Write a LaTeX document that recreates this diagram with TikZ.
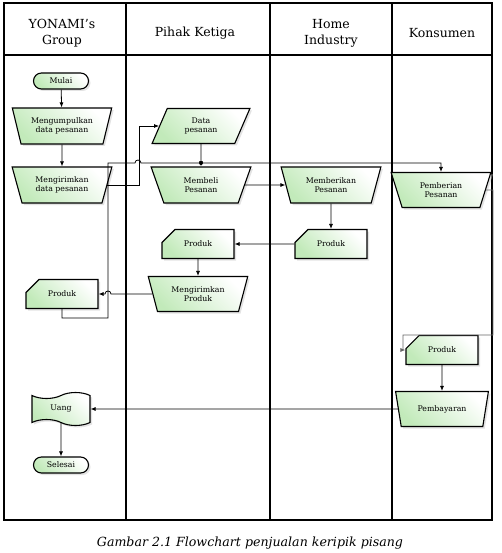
\documentclass[tikz,border=0pt]{standalone}
\usepackage{fontspec}
\setmainfont{DejaVu Serif}
\usetikzlibrary{shapes.geometric,shapes.misc,shapes.symbols,shadows,arrows.meta}
\definecolor{flowgreen}{RGB}{194,234,186}
\tikzset{
	box/.style={draw, line width=1.1pt, font=\fontsize{7.8}{9.2}\selectfont, align=center, inner sep=1pt,
		top color=white, bottom color=flowgreen, shading angle=-45,
		drop shadow={shadow xshift=2pt, shadow yshift=-2pt, fill=black!22}},
	term/.style={box, rounded rectangle, minimum width=57pt, minimum height=16pt},
	manop/.style={box, trapezium, shape border rotate=180, trapezium left angle=70, trapezium right angle=70,
		trapezium stretches=true, minimum width=100pt, minimum height=36pt},
	datain/.style={box, trapezium, trapezium left angle=67, trapezium right angle=113,
		trapezium stretches=true, minimum width=98pt, minimum height=35pt},
	card/.style={box, chamfered rectangle, chamfered rectangle corners=north west,
		chamfered rectangle xsep=9pt, chamfered rectangle ysep=9pt, minimum width=72pt, minimum height=29pt},
	tapebox/.style={box, tape, tape bend top=in and out, tape bend bottom=out and in, tape bend height=6pt,
		minimum width=58pt, minimum height=33pt},
	flow/.style={line width=0.8pt, -{Latex[length=5pt,width=4pt]}},
	lane/.style={line width=1.4pt},
	lanehead/.style={font=\fontsize{12.5}{16}\selectfont, align=center},
}

\begin{document}
\begin{tikzpicture}[x=1pt, y=-1pt]
		%%%%% START %%%%%
		\useasboundingbox (0,0) rectangle (501,553);
		
		% lanes
		\draw[lane] (4,3) rectangle (492,520);
		\draw[lane] (4,55) -- (492,55);
		\draw[lane] (126,3) -- (126,520);
		\draw[lane] (270,3) -- (270,520);
		\draw[lane] (392,3) -- (392,520);
		
		\node[lanehead] (hYonami) at (62,33) {YONAMI’s\\Group};
		\node[lanehead] (hPihak) at (195,33) {Pihak Ketiga};
		\node[lanehead] (hHome) at (331,33) {Home\\Industry};
		\node[lanehead] (hKonsumen) at (442,33) {Konsumen};
		
		% nodes
		\node[term] (mulai) at (61,81) {Mulai};
		\node[manop] (kumpul) at (62,126) {Mengumpulkan\\data pesanan};
		\node[manop] (kirim) at (62,185) {Mengirimkan\\data pesanan};
		\node[datain] (data) at (201,126) {Data\\pesanan};
		\node[manop] (beli) at (201,185) {Membeli\\Pesanan};
		\node[manop] (beri) at (331,185) {Memberikan\\Pesanan};
		\node[manop, minimum height=35pt] (pemberian) at (441,190) {Pemberian\\Pesanan};
		\node[card] (produkHI) at (331,244) {Produk};
		\node[card] (produkPK) at (198,244) {Produk};
		\node[manop, minimum height=35pt] (kirimProduk) at (198,294) {Mengirimkan\\Produk};
		\node[card] (produkY) at (62,294) {Produk};
		\node[card] (produkK) at (442,350) {Produk};
		\node[manop, minimum width=93pt, minimum height=35pt] (bayar) at (442,409) {Pembayaran};
		\node[tapebox] (uang) at (61,409) {Uang};
		\node[term] (selesai) at (61,465) {Selesai};
		
		% connectors
		\coordinate (busL) at (108,163);
		\draw[flow] (mulai) -- (kumpul);
		\draw[flow] (kumpul) -- (kirim);
		\draw[flow] (kirim.east) -- ++(32,0) |- (data.west);
		\draw[flow] (data) -- (beli);
		\draw[flow] (produkY.south) -- ++(0,9) -| (busL) -- (135,163) .. controls (135,159) and (141,159) .. (141,163)
			-- (busL -| pemberian.north) -- (pemberian.north);
		\fill (busL -| data.south) circle (2pt);
		\draw[flow] (beli) -- (beri);
		\draw[flow] (beri) -- (produkHI);
		\draw[flow] (produkHI) -- (produkPK);
		\draw[flow] (produkPK) -- (kirimProduk);
		\draw[flow] (kirimProduk.west) -- (111,294) .. controls (111,290) and (105,290) .. (105,294) -- (produkY.east);
		\draw[flow, draw=black!60] (pemberian.east) -- (493,190) |- (403,335) |- (produkK.west);
		\draw[flow] (produkK) -- (bayar);
		\draw[flow] (bayar) -- (uang);
		\draw[flow] (uang) -- (selesai);
		
		\node[font=\fontsize{12.6}{15}\selectfont\itshape] (caption) at (250,543) {Gambar 2.1 Flowchart penjualan keripik pisang};
		
		%%%%% END %%%%%
\end{tikzpicture}
\end{document}
